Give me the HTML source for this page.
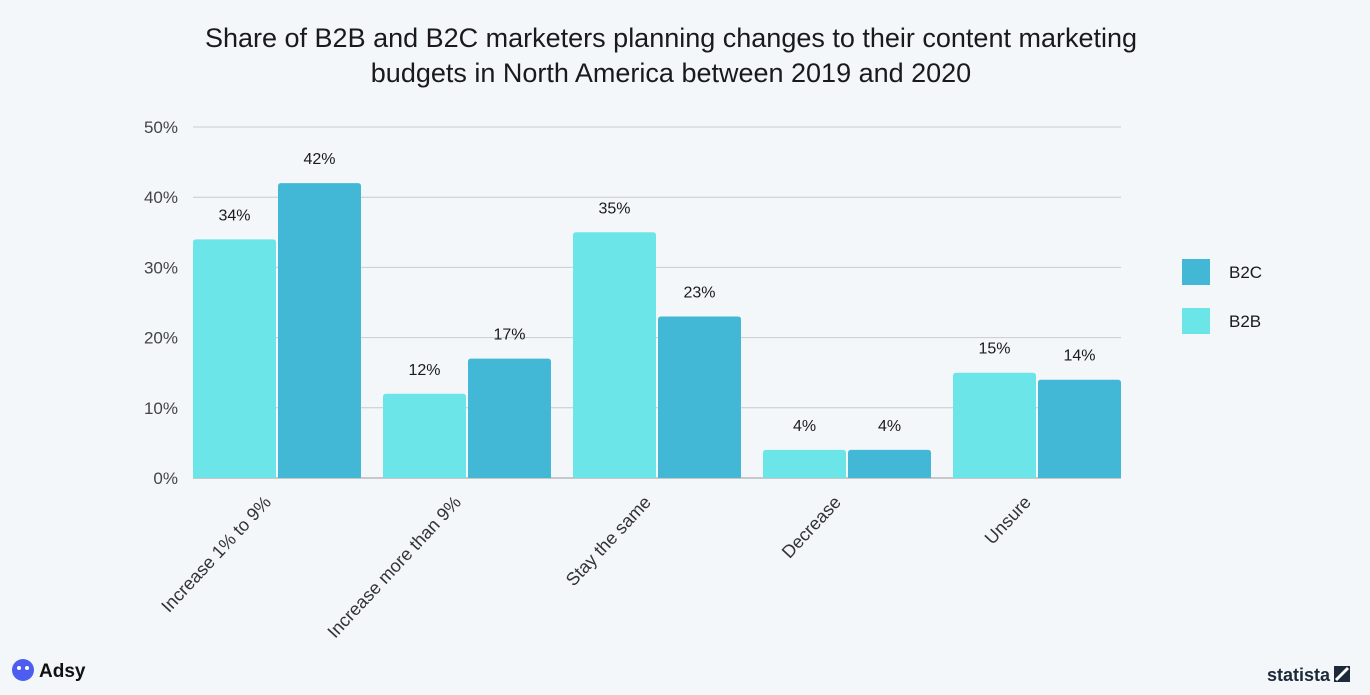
<!DOCTYPE html>
<html><head><meta charset="utf-8"><style>
body{margin:0;background:#f3f7fa;font-family:"Liberation Sans",sans-serif}
svg{display:block}
</style></head><body>
<svg width="1370" height="695" viewBox="0 0 1370 695">
<rect width="1370" height="695" fill="#f3f7fa"/>
<text x="671" y="47" text-anchor="middle" font-size="27" fill="#1a1a1a">Share of B2B and B2C marketers planning changes to their content marketing</text>
<text x="671" y="82" text-anchor="middle" font-size="27" fill="#1a1a1a">budgets in North America between 2019 and 2020</text>
<g id="grid"></g><g id="bars"></g><g id="labels"></g>
<g>
<rect x="1182" y="259" width="28" height="26" fill="#42b8d6"/>
<text x="1229" y="278" font-size="17" fill="#1a1a1a">B2C</text>
<rect x="1182" y="308" width="28" height="26" fill="#6ce5e8"/>
<text x="1229" y="327" font-size="17" fill="#1a1a1a">B2B</text>
</g>
<g>
<circle cx="23" cy="670" r="11" fill="#4b5ef0"/>
<circle cx="19" cy="668" r="2" fill="#fff"/><circle cx="27" cy="668" r="2" fill="#fff"/>
<text x="39" y="677" font-size="19" font-weight="bold" fill="#111">Adsy</text>
</g>
<g>
<text x="1330" y="681" text-anchor="end" font-size="18" fill="#1c2a3a" font-weight="bold">statista</text>
<rect x="1334" y="666" width="16" height="16" fill="#1c2a3a"/>
<path d="M1336 680 L1348 668" stroke="#fff" stroke-width="3"/>
</g>
</svg>
<script>
const categories=["Increase 1% to 9%","Increase more than 9%","Stay the same","Decrease","Unsure"];
const b2b=[34,12,35,4,15];
const b2c=[42,17,23,4,14];
const ticks=[0,10,20,30,40,50];
const NS="http://www.w3.org/2000/svg";
const x0=193,step=190,bw=83,gap=2,y0=478,yTop=127,maxV=50;
const y=v=>y0-(v/maxV)*(y0-yTop);
const xg=i=>x0+i*step;
function mk(t,a,p){const e=document.createElementNS(NS,t);for(const k in a)e.setAttribute(k,a[k]);p.appendChild(e);return e;}
const grid=document.getElementById('grid'),bars=document.getElementById('bars'),labels=document.getElementById('labels');
ticks.forEach(t=>{
 const l=mk('line',{x1:193,x2:1121,y1:y(t),y2:y(t),stroke:t===0?'#999':'#c8ccd0','stroke-width':1},grid);
 
 
 const tx=mk('text',{x:178,y:y(t)+6,'text-anchor':'end','font-size':17,fill:'#444'},grid);
 tx.textContent=t+'%';
 
 
});
categories.forEach((c,i)=>{
 [[b2b[i],'#6ce5e8','b2b',0],[b2c[i],'#42b8d6','b2c',1]].forEach(([v,col,s,k])=>{
  const bx=xg(i)+k*(bw+gap);
  const r=mk('path',{d:`M${bx} ${y0} V${y(v)+3} Q${bx} ${y(v)} ${bx+3} ${y(v)} H${bx+bw-3} Q${bx+bw} ${y(v)} ${bx+bw} ${y(v)+3} V${y0} Z`,fill:col},bars);
  
  
  const t=mk('text',{x:bx+bw/2,y:y(v)-19,'text-anchor':'middle','font-size':16,fill:'#1a1a1a'},labels);
  t.textContent=v+'%';
  
  
 });
 const cx=xg(i)+bw-4;
 const t=mk('text',{x:cx,y:503,'text-anchor':'end','font-size':18,fill:'#333',transform:`rotate(-47 ${cx} 503)`},labels);
 t.textContent=c;
 
 
});
</script>
</body></html>
